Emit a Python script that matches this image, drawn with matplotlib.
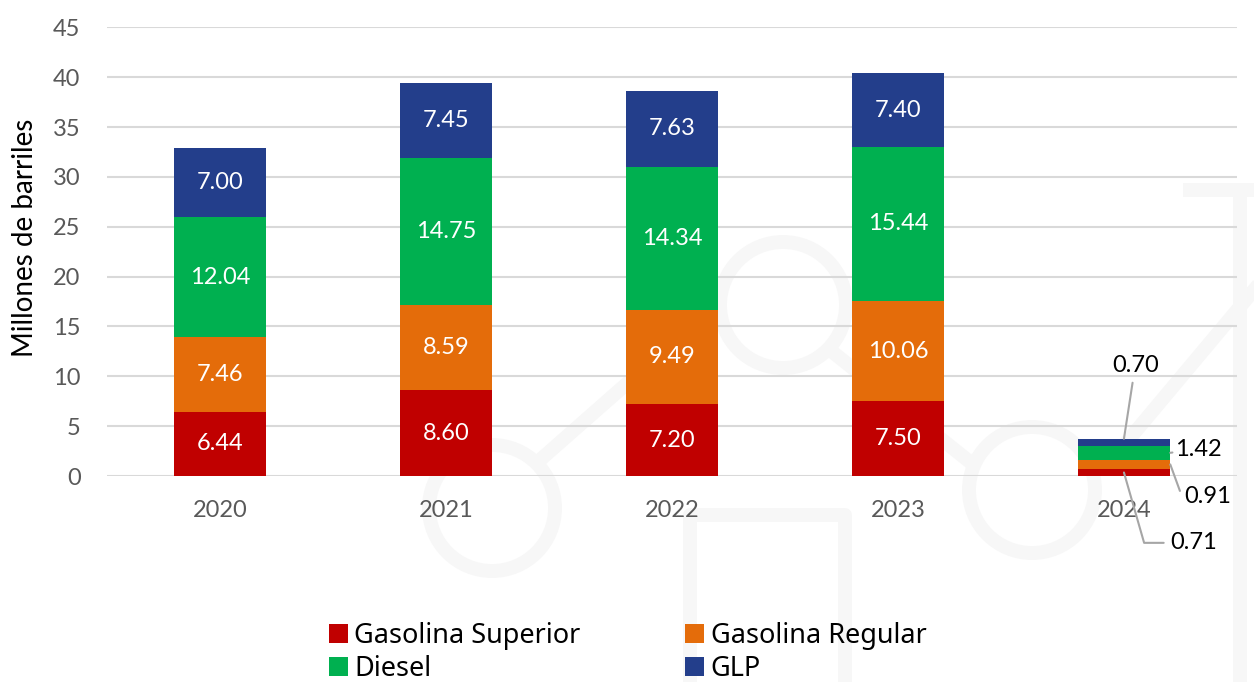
import matplotlib.pyplot as plt
import numpy as np
from matplotlib.patches import Circle
from matplotlib.lines import Line2D
from matplotlib.transforms import Affine2D

years = ["2020", "2021", "2022", "2023", "2024"]
superior = [6.44, 8.60, 7.20, 7.50, 0.71]
regular = [7.46, 8.59, 9.49, 10.06, 0.91]
diesel = [12.04, 14.75, 14.34, 15.44, 1.42]
glp = [7.00, 7.45, 7.63, 7.40, 0.70]

series = [("Gasolina Superior", superior, "#C00000"),
          ("Gasolina Regular", regular, "#E46C0A"),
          ("Diesel", diesel, "#00B050"),
          ("GLP", glp, "#233E8B")]

plt.rcParams['font.family'] = ['Lato', 'DejaVu Sans']

fig = plt.figure(figsize=(12.54, 6.82), dpi=100)

# faint watermark in the background (image pixel coords, y down)
px = Affine2D().scale(1, -1).translate(0, 682)
wm_col = "#F7F7F7"
for cx, cy, r in [(492, 508, 63), (783, 305, 63), (1032, 490, 63)]:
    fig.patches.append(Circle((cx, cy), r, fill=False, lw=10, ec=wm_col,
                              transform=px, zorder=-2))
for xs, ys in [([540, 640], [460, 372]), ([830, 970], [350, 462]),
               ([1120, 1254], [450, 290]), ([690, 690, 845, 845], [682, 515, 515, 682]),
               ([1240, 1240], [190, 682]), ([1190, 1254], [190, 190])]:
    fig.lines.append(Line2D(xs, ys, lw=10, color=wm_col, transform=px, zorder=-2))

ax = fig.add_axes([0.0853, 0.302, 0.9011, 0.658])
ax.set_facecolor("none")

x = np.arange(len(years))
width = 0.41
bottom = np.zeros(len(years))
handles = {}
for name, vals, col in series:
    vals = np.array(vals)
    b = ax.bar(x, vals, width, bottom=bottom, color=col, label=name, zorder=3)
    handles[name] = b
    for i in range(4):
        ax.text(x[i], bottom[i] + vals[i] / 2, f"{vals[i]:.2f}", ha="center", va="center",
                color="white", fontsize=17, zorder=4)
    bottom = bottom + vals

# 2024 labels with leader lines
b24 = [0, superior[4], superior[4] + regular[4], superior[4] + regular[4] + diesel[4]]
lead = dict(arrowstyle="-", color="#A6A6A6", lw=1.5, shrinkA=3, shrinkB=0)
ax.annotate(f"{glp[4]:.2f}", xy=(4, b24[3] + glp[4]), xytext=(4.05, 11.1),
            ha="center", va="center", fontsize=17, arrowprops=lead)
ax.annotate(f"{diesel[4]:.2f}", xy=(4 + width / 2, b24[2] + diesel[4] / 2), xytext=(4.33, 2.7),
            ha="center", va="center", fontsize=17, arrowprops=lead, annotation_clip=False)
ax.annotate(f"{regular[4]:.2f}", xy=(4 + width / 2, b24[1] + regular[4] / 2), xytext=(4.37, -2.1),
            ha="center", va="center", fontsize=17, annotation_clip=False,
            arrowprops=dict(lead, connectionstyle="angle,angleA=0,angleB=-70,rad=0"))
ax.annotate(f"{superior[4]:.2f}", xy=(4, superior[4] / 2), xytext=(4.31, -6.7),
            ha="center", va="center", fontsize=17, annotation_clip=False,
            arrowprops=dict(lead, connectionstyle="angle,angleA=0,angleB=-74,rad=0"))

ax.set_xlim(-0.5, 4.5)
ax.set_ylim(0, 45)
ax.set_yticks(np.arange(0, 46, 5))
ax.set_xticks(x)
ax.set_xticklabels(years)
ax.tick_params(axis="both", length=0, labelsize=17, labelcolor="#595959")
ax.tick_params(axis="x", pad=17)
ax.tick_params(axis="y", pad=19)
ax.grid(axis="y", color="#D9D9D9", lw=1.5, zorder=0)
for s in ax.spines.values():
    s.set_visible(False)
ax.set_ylabel("Millones de barriles", fontsize=20)
ax.yaxis.set_label_coords(-0.061, 0.53)

order = ["Gasolina Superior", "Diesel", "Gasolina Regular", "GLP"]
fig.legend(handles=[handles[n] for n in order], loc="upper left",
           bbox_to_anchor=(0.262, 0.088), ncol=2,
           frameon=False, prop={"family": "Noto Sans", "size": 19.5},
           handlelength=0.7, handleheight=0.7, handletextpad=0.25,
           columnspacing=3.85, labelspacing=0.2, borderpad=0, borderaxespad=0)

fig.savefig("out.png", dpi=100)
